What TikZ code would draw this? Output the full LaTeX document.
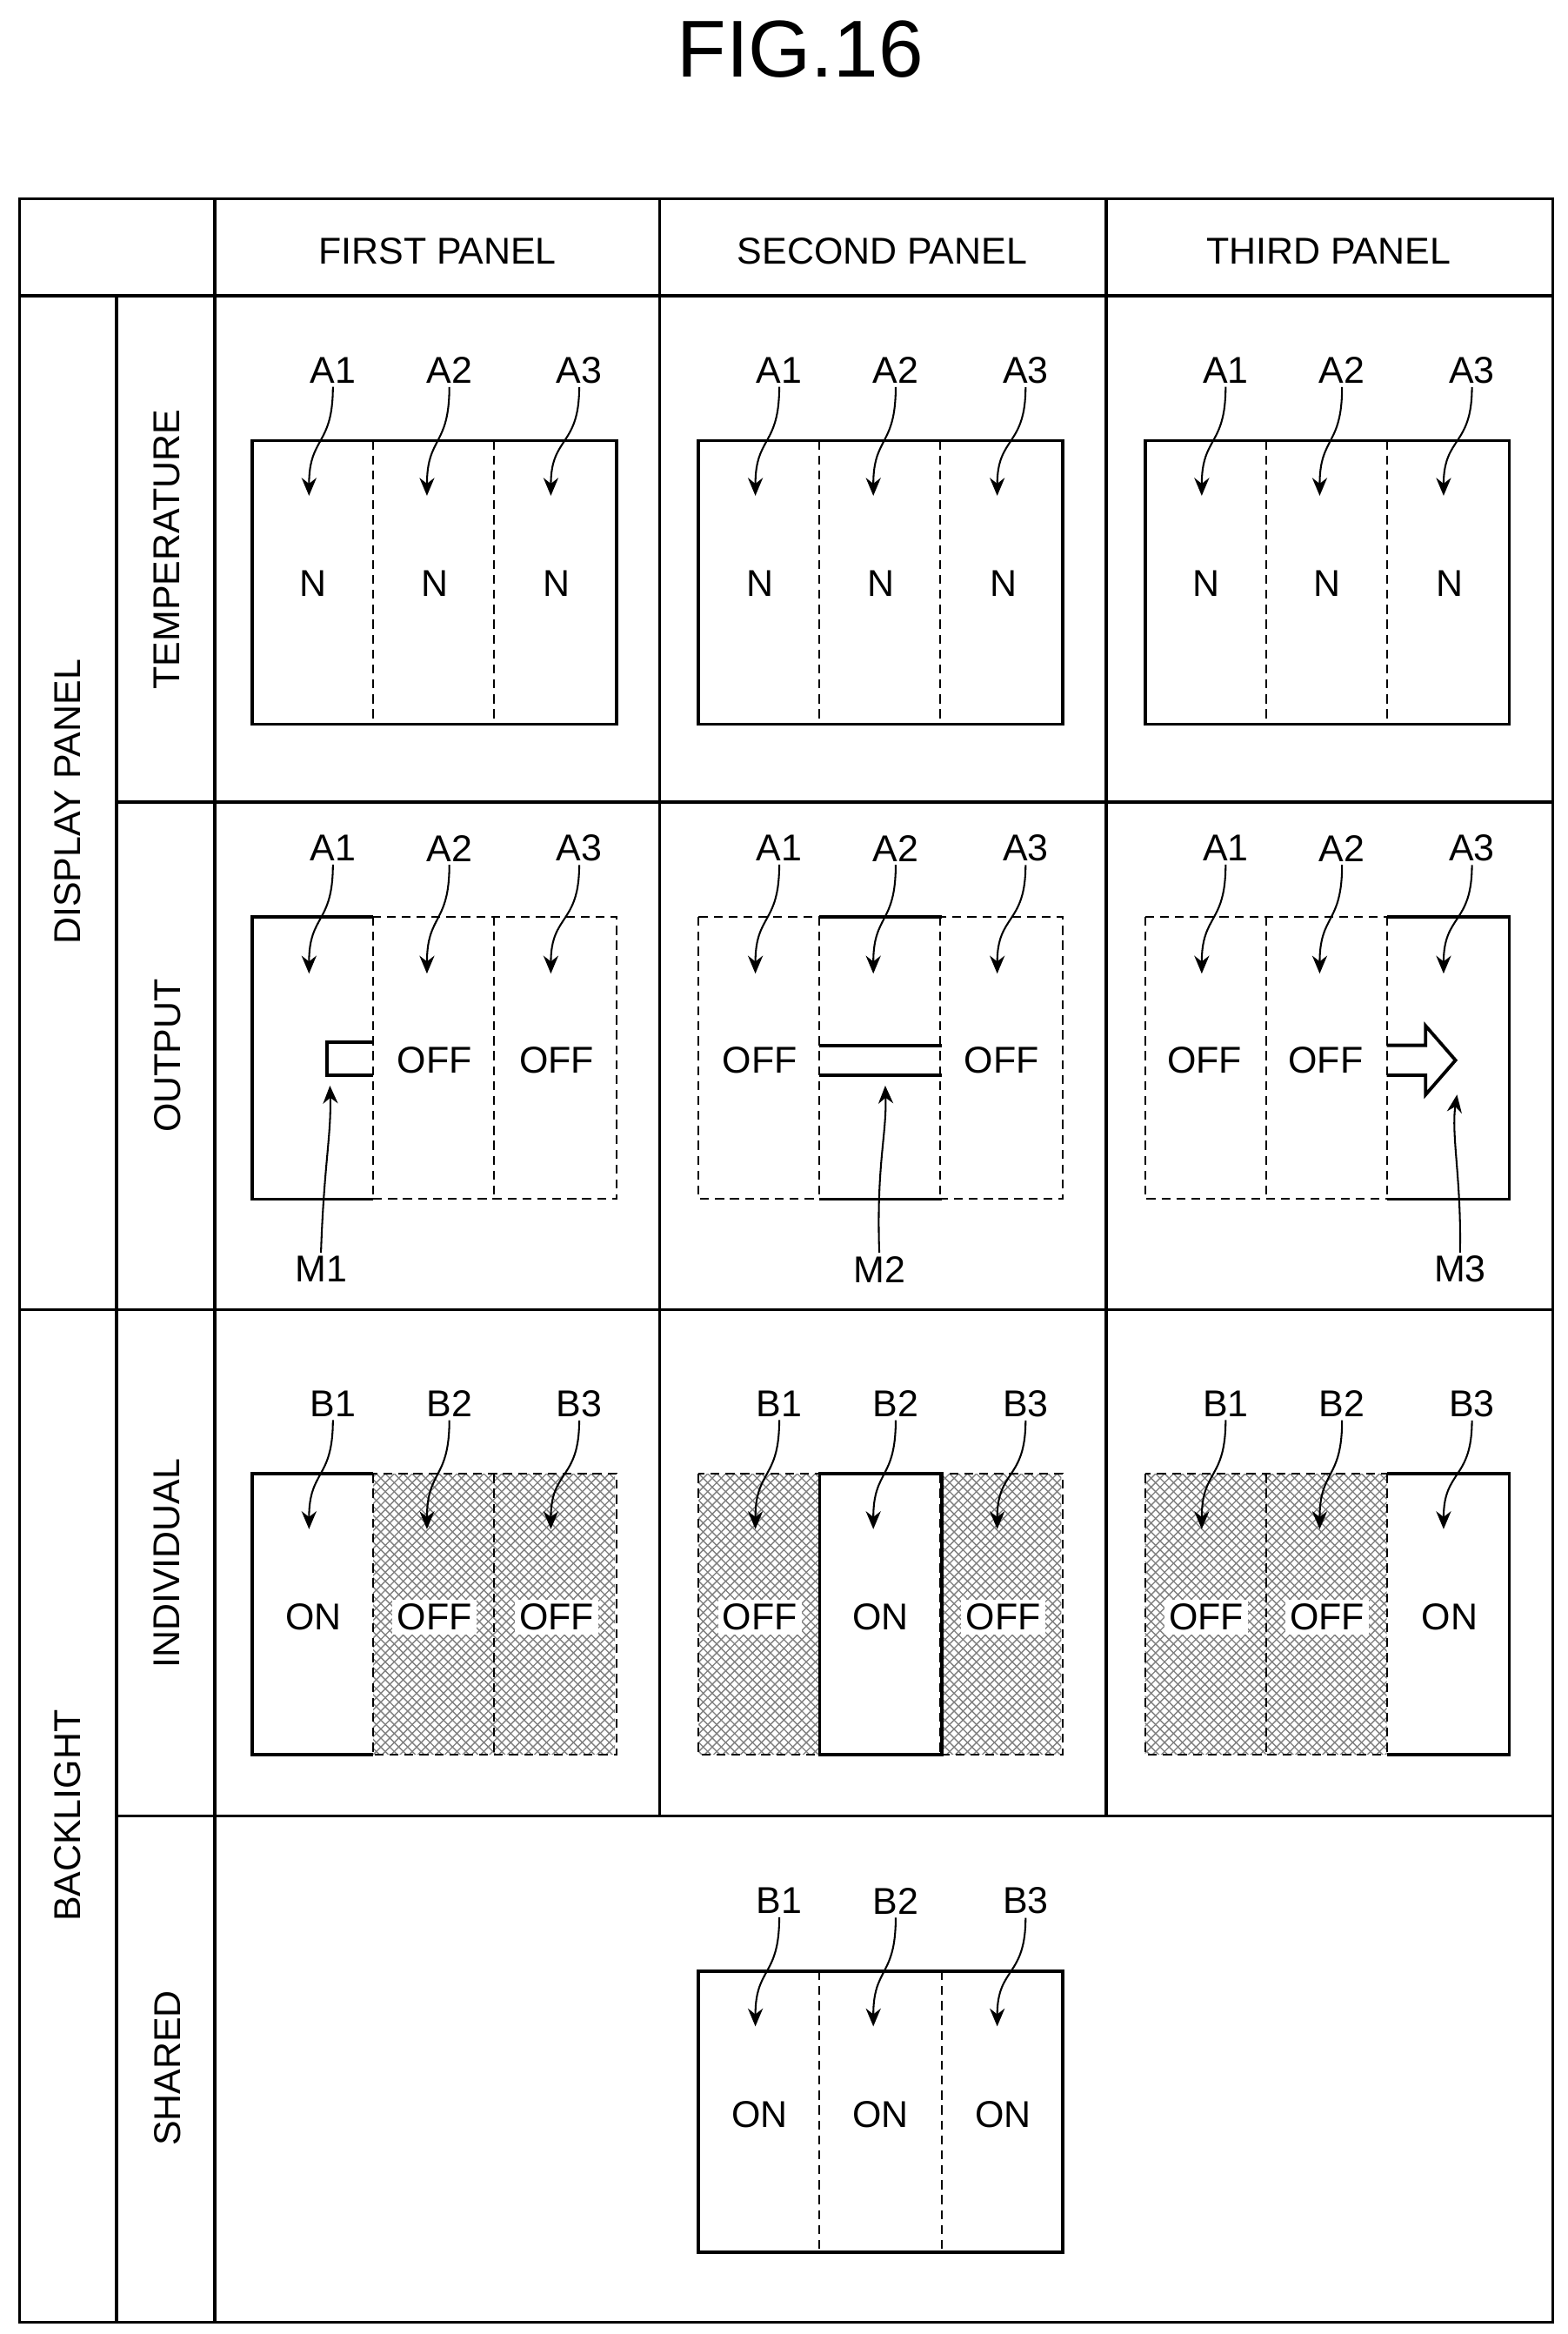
\documentclass[tikz,border=0pt]{standalone}
\usepackage{fontspec}
\setmainfont{Liberation Sans}
\usetikzlibrary{arrows.meta,patterns,calc}
\tikzset{
  lbl/.style={font=\fontsize{12.5}{14}\selectfont,inner sep=1pt},
  hdr/.style={font=\fontsize{12.5}{14}\selectfont,inner sep=1pt},
  grid/.style={line width=1pt},
  solidb/.style={line width=1.1pt},
  dashb/.style={line width=0.6pt,dash pattern=on 3pt off 2pt},
  ptr/.style={line width=0.6pt,-{Stealth[length=6pt,width=5pt]}},
  hatch/.style={pattern=crosshatch,pattern color=black!50},
  wt/.style={lbl,fill=white,inner sep=1.5pt}
}
\begin{document}
\begin{tikzpicture}[x=0.5pt,y=-0.5pt]
\useasboundingbox (0,0) rectangle (1050,1563);
\node[font=\fontsize{27}{30}\selectfont] (title) at (536,33) {FIG.16};
% grid
\draw[grid] (13,133) rectangle (1040,1555);
\draw[grid] (13,198) -- (1040,198);
\draw[grid] (13,877) -- (1040,877);
\draw[grid] (78,537) -- (1040,537);
\draw[grid] (78,1216) -- (1040,1216);
\draw[grid] (78,198) -- (78,1555);
\draw[grid] (144,133) -- (144,1555);
\draw[grid] (442,133) -- (442,1216);
\draw[grid] (741,133) -- (741,1216);
% headers
\node[hdr] (h1) at (293,168) {FIRST PANEL};
\node[hdr] (h2) at (591,168) {SECOND PANEL};
\node[hdr] (h3) at (890,168) {THIRD PANEL};
\node[hdr,rotate=90] (gdp) at (45,537) {DISPLAY PANEL};
\node[hdr,rotate=90] (gbl) at (45,1216) {BACKLIGHT};
\node[hdr,rotate=90] (rt) at (112,368) {TEMPERATURE};
\node[hdr,rotate=90] (ro) at (112,707) {OUTPUT};
\node[hdr,rotate=90] (ri) at (112,1047) {INDIVIDUAL};
\node[hdr,rotate=90] (rs) at (112,1385) {SHARED};
% temperature row
\foreach \L/\p in {169/1,468/2,767/3}{
  \draw[dashb] (\L+81,295) -- (\L+81,485) (\L+162,295) -- (\L+162,485);
  \draw[solidb] (\L,295) rectangle (\L+244,485);
  \foreach \c/\lx/\tx/\nx in {1/54/38/41,2/132/117/122,3/219/200/204}{
    \node[lbl] (ta\p\c) at (\L+\lx,248) {A\c};
    \coordinate (tt\p\c) at (\L+\tx,332);
    \draw[ptr] (ta\p\c.south) .. controls ($(ta\p\c.south)+(0,40)$) and ($(tt\p\c)+(0,-40)$) .. (tt\p\c);
    \node[lbl] (tn\p\c) at (\L+\nx,391) {N};
  }
}
% output row
\foreach \L/\p in {169/1,468/2,767/3}{
  \draw[dashb] (\L,614) rectangle (\L+244,803);
  \draw[dashb] (\L+81,614) -- (\L+81,803) (\L+162,614) -- (\L+162,803);
  \foreach \c/\lx/\tx in {1/54/38,2/132/117,3/219/200}{
    \node[lbl] (oa\p\c) at (\L+\lx,568) {A\c};
    \coordinate (ot\p\c) at (\L+\tx,652);
    \draw[ptr] (oa\p\c.south) .. controls ($(oa\p\c.south)+(0,40)$) and ($(ot\p\c)+(0,-40)$) .. (ot\p\c);
  }
}
% first panel output
\draw[solidb] (250,614) -- (169,614) -- (169,803) -- (250,803);
\draw[solidb] (250,698) -- (219,698) -- (219,720) -- (250,720);
\node[lbl] (o12) at (291,710) {OFF};
\node[lbl] (o13) at (373,710) {OFF};
\node[lbl] (m1) at (215,850) {M1};
\coordinate (m1t) at (221,727);
\draw[ptr] (m1.north) .. controls (217,780) and (222,760) .. (m1t);
% second panel output
\draw[solidb] (549,614) -- (631,614) (549,803) -- (631,803);
\draw[solidb] (549,700) -- (631,700) (549,720) -- (631,720);
\node[lbl] (o21) at (509,710) {OFF};
\node[lbl] (o23) at (671,710) {OFF};
\node[lbl] (m2) at (589,850) {M2};
\coordinate (m2t) at (593,727);
\draw[ptr] (m2.north) .. controls (587,780) and (594,760) .. (m2t);
% third panel output
\draw[solidb] (929,614) -- (1011,614) -- (1011,803) -- (929,803);
\draw[solidb] (929,700) -- (955,700) -- (955,687) -- (975,710) -- (955,733) -- (955,720) -- (929,720);
\node[lbl] (o31) at (807,710) {OFF};
\node[lbl] (o32) at (888,710) {OFF};
\node[lbl] (m3) at (978,850) {M3};
\coordinate (m3t) at (976,733);
\draw[ptr] (m3.north) .. controls (979,790) and (972,760) .. (m3t);
% individual row
\foreach \L/\p/\on in {169/1/1,468/2/2,767/3/3}{
  \foreach \c in {1,2,3}{
    \ifnum\c=\on\else
      \fill[hatch] (\L+81*\c-81,987) rectangle (\L+81*\c,1175);
    \fi
  }
  \draw[dashb] (\L,987) rectangle (\L+244,1175);
  \draw[dashb] (\L+81,987) -- (\L+81,1175) (\L+162,987) -- (\L+162,1175);
  \foreach \c/\lx/\tx/\nx in {1/54/38/41,2/132/117/122,3/219/200/204}{
    \ifnum\c=\on
      \node[lbl] (ib\p\c) at (\L+\nx,1083) {ON};
    \else
      \node[wt] (ib\p\c) at (\L+\nx,1083) {OFF};
    \fi
    \node[lbl] (ia\p\c) at (\L+\lx,940) {B\c};
    \coordinate (it\p\c) at (\L+\tx,1024);
    \draw[ptr] (ia\p\c.south) .. controls ($(ia\p\c.south)+(0,40)$) and ($(it\p\c)+(0,-40)$) .. (it\p\c);
  }
}
\draw[solidb] (250,987) -- (169,987) -- (169,1175) -- (250,1175);
\draw[solidb] (549,987) rectangle (631,1175);
\draw[solidb] (929,987) -- (1011,987) -- (1011,1175) -- (929,1175);
% shared row
\draw[dashb] (549,1320) -- (549,1508) (631,1320) -- (631,1508);
\draw[solidb] (468,1320) rectangle (712,1508);
\foreach \c/\lx/\tx/\nx in {1/54/38/41,2/132/117/122,3/219/200/204}{
  \node[lbl] (sa\c) at (468+\lx,1273) {B\c};
  \coordinate (st\c) at (468+\tx,1357);
  \draw[ptr] (sa\c.south) .. controls ($(sa\c.south)+(0,40)$) and ($(st\c)+(0,-40)$) .. (st\c);
  \node[lbl] (sn\c) at (468+\nx,1416) {ON};
}
\end{tikzpicture}
\end{document}
